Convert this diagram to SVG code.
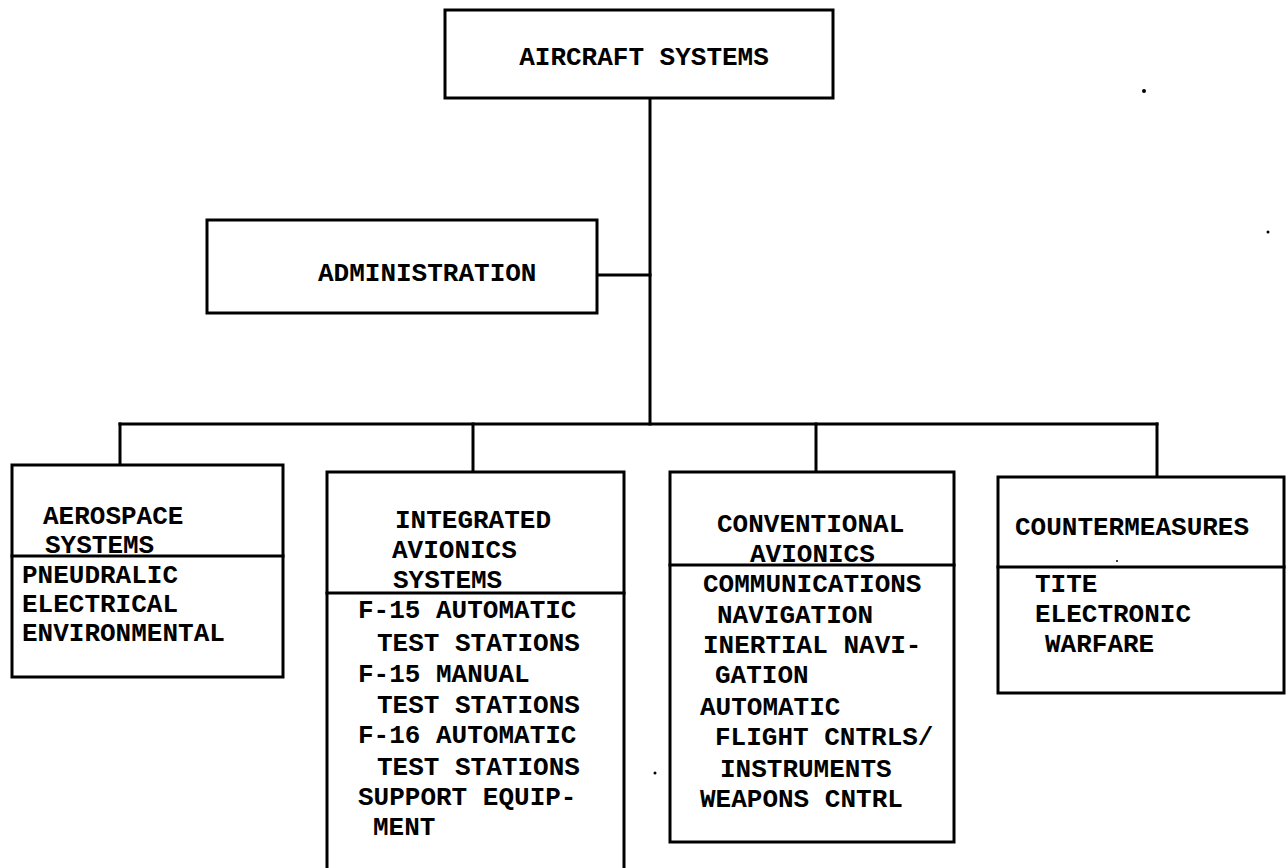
<svg xmlns="http://www.w3.org/2000/svg" width="1286" height="868" viewBox="0 0 1286 868">
<style>
.box{fill:#fff;stroke:#000;stroke-width:3}
.ln{stroke:#000;stroke-width:3;fill:none;stroke-linecap:square}
.t{font-family:"Liberation Mono","Courier New",monospace;font-weight:bold;font-size:26px;fill:#000}
</style>
<rect width="1286" height="868" fill="#fff"/>
<g id="connectors">
<path class="ln" d="M650,98 V424"/>
<path class="ln" d="M597,275 H650"/>
<path class="ln" d="M120,424 H1157"/>
<path class="ln" d="M120,424 V465"/>
<path class="ln" d="M473,424 V472"/>
<path class="ln" d="M816,424 V472"/>
<path class="ln" d="M1157,424 V477"/>
</g>
<g id="aircraft-systems">
<rect class="box" x="445" y="10" width="388" height="88"/>
<text class="t" x="644" y="65" text-anchor="middle">AIRCRAFT SYSTEMS</text>
</g>
<g id="administration">
<rect class="box" x="207" y="220" width="390" height="93"/>
<text class="t" x="318" y="281">ADMINISTRATION</text>
</g>
<g id="aerospace-systems">
<rect class="box" x="12" y="465" width="271" height="212"/>
<path class="ln" d="M12,556 H283"/>
<text class="t" x="43" y="524">AEROSPACE</text>
<text class="t" x="45" y="553">SYSTEMS</text>
<text class="t" x="22" y="583">PNEUDRALIC</text>
<text class="t" x="22" y="612">ELECTRICAL</text>
<text class="t" x="22" y="641">ENVIRONMENTAL</text>
</g>
<g id="integrated-avionics-systems">
<rect class="box" x="327" y="472" width="297" height="420"/>
<path class="ln" d="M327,593 H624"/>
<text class="t" x="395" y="528">INTEGRATED</text>
<text class="t" x="392" y="558">AVIONICS</text>
<text class="t" x="393" y="588">SYSTEMS</text>
<text class="t" x="358" y="618">F-15 AUTOMATIC</text>
<text class="t" x="377" y="651">TEST STATIONS</text>
<text class="t" x="358" y="682">F-15 MANUAL</text>
<text class="t" x="377" y="713">TEST STATIONS</text>
<text class="t" x="358" y="743">F-16 AUTOMATIC</text>
<text class="t" x="377" y="775">TEST STATIONS</text>
<text class="t" x="358" y="805">SUPPORT EQUIP-</text>
<text class="t" x="373" y="835">MENT</text>
</g>
<g id="conventional-avionics">
<rect class="box" x="670" y="472" width="284" height="370"/>
<path class="ln" d="M670,565 H954"/>
<text class="t" x="717" y="532">CONVENTIONAL</text>
<text class="t" x="750" y="562">AVIONICS</text>
<text class="t" x="703" y="592">COMMUNICATIONS</text>
<text class="t" x="717" y="623">NAVIGATION</text>
<text class="t" x="703" y="653">INERTIAL NAVI-</text>
<text class="t" x="715" y="683">GATION</text>
<text class="t" x="700" y="715">AUTOMATIC</text>
<text class="t" x="715" y="745">FLIGHT CNTRLS/</text>
<text class="t" x="720" y="777">INSTRUMENTS</text>
<text class="t" x="700" y="807">WEAPONS CNTRL</text>
</g>
<g id="countermeasures">
<rect class="box" x="998" y="477" width="286" height="216"/>
<path class="ln" d="M998,567 H1284"/>
<text class="t" x="1015" y="535">COUNTERMEASURES</text>
<text class="t" x="1035" y="592">TITE</text>
<text class="t" x="1035" y="622">ELECTRONIC</text>
<text class="t" x="1045" y="652">WARFARE</text>
</g>
<g id="specks" fill="#000">
<circle cx="1144" cy="91" r="2"/>
<circle cx="1268" cy="232" r="1.5"/>
<circle cx="655" cy="773" r="1.5"/>
<circle cx="1117" cy="561" r="1"/>
</g>
</svg>
